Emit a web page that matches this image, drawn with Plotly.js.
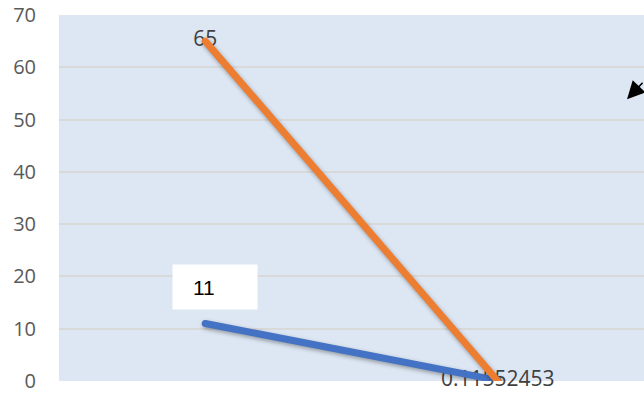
<!DOCTYPE html>
<html>
<head>
<meta charset="utf-8">
<script src="https://cdn.plot.ly/plotly-3.0.1.min.js"></script>
<style>
  html, body { margin: 0; padding: 0; background: #fff; }
  #chart { width: 644px; height: 396px; }
  /* soft shadow and rounded ends on the series lines */
  #chart .scatterlayer path.js-line {
    stroke-linecap: round;
    stroke-linejoin: round;
    filter: drop-shadow(1px 2px 2px rgba(0, 0, 0, 0.35));
  }
</style>
</head>
<body>
<div id="chart"></div>
<script>
// Two points per series along a category axis
const categories = ['Point 1', 'Point 2'];
const blueValues = [11, 0.11552453];
const orangeValues = [65, 0];
const yTicks = [0, 10, 20, 30, 40, 50, 60, 70];

const BLUE = '#4472C4';
const ORANGE = '#ED7D31';
const labelFont = { family: 'Open Sans, Liberation Sans, sans-serif', size: 21, color: '#404040' };

// Data labels sit underneath the lines
const orangeLabels = {
  x: categories, y: orangeValues,
  type: 'scatter', mode: 'text',
  text: [String(orangeValues[0]), ''],
  textposition: 'middle center',
  textfont: labelFont,
  cliponaxis: false,
  hoverinfo: 'skip', showlegend: false
};
const blueLabels = {
  x: categories, y: blueValues,
  type: 'scatter', mode: 'text',
  text: ['', String(blueValues[1])],
  textposition: 'middle center',
  textfont: labelFont,
  cliponaxis: false,
  hoverinfo: 'skip', showlegend: false
};

const blueLine = {
  x: categories, y: blueValues,
  type: 'scatter', mode: 'lines',
  line: { color: BLUE, width: 7 },
  cliponaxis: false,
  showlegend: false
};
const orangeLine = {
  x: categories, y: orangeValues,
  type: 'scatter', mode: 'lines',
  line: { color: ORANGE, width: 7 },
  cliponaxis: false,
  showlegend: false
};

const layout = {
  width: 644,
  height: 396,
  margin: { l: 59, r: 0, t: 15, b: 15, pad: 0 },
  paper_bgcolor: '#ffffff',
  plot_bgcolor: '#DDE7F3',
  showlegend: false,
  xaxis: {
    type: 'category',
    categoryarray: categories,
    range: [-0.5, 1.5],
    showticklabels: false,
    showgrid: false,
    zeroline: false,
    showline: false,
    ticks: ''
  },
  yaxis: {
    range: [0, 70],
    tickvals: yTicks,
    ticktext: yTicks.map(String),
    showgrid: true,
    gridcolor: '#D9D9D9',
    gridwidth: 2,
    zeroline: false,
    showline: false,
    ticks: '',
    ticklabelstandoff: 22,
    tickfont: { family: 'Open Sans, Liberation Sans, sans-serif', size: 20, color: '#595959' }
  },
  annotations: [
    // white label box for the first blue point
    {
      xref: 'x', yref: 'y', x: 0, y: blueValues[0],
      text: '&nbsp;', showarrow: false,
      width: 84, height: 44, borderpad: 0,
      bgcolor: '#ffffff',
      xshift: 10, yshift: 36.5
    },
    {
      xref: 'x', yref: 'y', x: 0, y: blueValues[0],
      text: String(blueValues[0]), showarrow: false,
      font: { family: 'Liberation Sans, Arial, sans-serif', size: 21, color: '#000000' },
      xshift: -1, yshift: 35.5
    },
    // arrow entering from the right edge
    {
      xref: 'paper', yref: 'paper', x: 0.971, y: 0.770,
      text: '', showarrow: true,
      arrowhead: 2, arrowsize: 2.2, arrowwidth: 1.6, arrowcolor: '#000000',
      ax: 40, ay: -18
    }
  ]
};

Plotly.newPlot('chart', [orangeLabels, blueLabels, blueLine, orangeLine], layout, {
  displayModeBar: false,
  staticPlot: true
});
</script>
</body>
</html>
